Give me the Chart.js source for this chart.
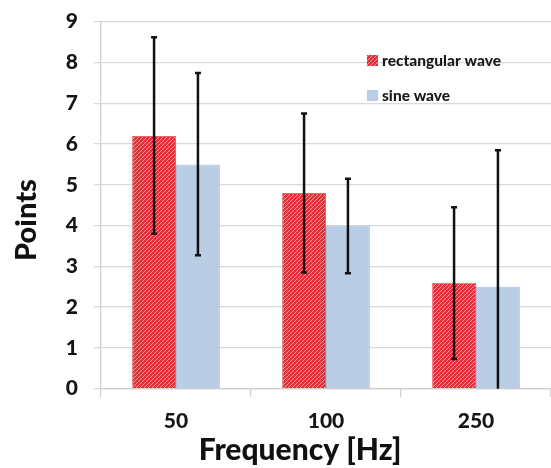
<!DOCTYPE html>
<html>
<head>
<meta charset="utf-8">
<script src="https://cdn.jsdelivr.net/npm/chart.js@4"></script>
<style>
html,body{margin:0;padding:0;background:#fff;}
#wrap{width:551px;height:468px;}
</style>
</head>
<body>
<div id="wrap"><canvas id="myChart"></canvas></div>
<script>
// ---- data ----
let freqLabels = ["50", "100", "250"];
let rectValues = [6.2, 4.8, 2.6];
let sineValues = [5.5, 4.0, 2.5];
let rectLow  = [3.8, 2.85, 0.73];
let rectHigh = [8.62, 6.75, 4.45];
let sineLow  = [3.27, 2.83, 0];
let sineHigh = [7.74, 5.15, 5.85];
let seriesNames = ["rectangular wave", "sine wave"];
let xTitle = "Frequency [Hz]";
let yTitle = "Points";

let FONT = "Lato";
let canvas = document.getElementById("myChart");
let ctx = canvas.getContext("2d");

// red bars with fine white diagonal hatch
function makeHatch(){
  let c = document.createElement("canvas");
  c.width = 4; c.height = 4;
  let g = c.getContext("2d");
  g.fillStyle = "#dc3439";
  g.fillRect(0, 0, 4, 4);
  g.strokeStyle = "rgba(255,215,215,0.7)";
  g.lineWidth = 0.9;
  g.beginPath();
  g.moveTo(0, 4); g.lineTo(4, 0);
  g.moveTo(-1, 1); g.lineTo(1, -1);
  g.moveTo(3, 5); g.lineTo(5, 3);
  g.stroke();
  return ctx.createPattern(c, "repeat");
}
let hatch = makeHatch();

// error bars drawn from the bar elements and y scale
let errorBars = {
  id: "errorBars",
  afterDatasetsDraw(chart){
    let y = chart.scales.y;
    let c = chart.ctx;
    let lows = [rectLow, sineLow];
    let highs = [rectHigh, sineHigh];
    c.save();
    c.strokeStyle = "#111";
    c.lineWidth = 2.5;
    chart.data.datasets.forEach(function(ds, d){
      let meta = chart.getDatasetMeta(d);
      meta.data.forEach(function(bar, i){
        let x = bar.x;
        let yl = y.getPixelForValue(lows[d][i]);
        let yh = y.getPixelForValue(highs[d][i]);
        c.beginPath();
        c.moveTo(x, yl); c.lineTo(x, yh);
        c.moveTo(x - 3, yh); c.lineTo(x + 3, yh);
        if (lows[d][i] > 0){ c.moveTo(x - 3, yl); c.lineTo(x + 3, yl); }
        c.stroke();
      });
    });
    c.restore();
  }
};

// legend inside the plot and axis titles
let extras = {
  id: "extras",
  afterDraw(chart){
    let c = chart.ctx;
    let a = chart.chartArea;
    c.save();
    chart.data.datasets.forEach(function(ds, d){
      let lx = 367, ly = 55 + d * 35;
      c.fillStyle = ds.backgroundColor;
      c.fillRect(lx, ly, 11, 11);
      c.fillStyle = "#1a1a1a";
      c.font = "900 15.5px " + FONT;
      c.textBaseline = "middle";
      c.textAlign = "left";
      c.fillText(ds.label, lx + 15, ly + 6);
    });
    c.fillStyle = "#111";
    c.font = "900 30px " + FONT;
    c.textAlign = "center";
    c.textBaseline = "middle";
    c.fillText(xTitle, a.left + 199, 450);
    c.font = "900 29px " + FONT;
    c.translate(27, 220);
    c.rotate(-Math.PI / 2);
    c.fillText(yTitle, 0, 0);
    c.restore();
  }
};

new Chart(canvas, {
  type: "bar",
  data: {
    labels: freqLabels,
    datasets: [{
      label: seriesNames[0],
      data: rectValues,
      backgroundColor: hatch,
      borderColor: "#e8636a",
      borderWidth: 1
    }, {
      label: seriesNames[1],
      data: sineValues,
      backgroundColor: "#b9cde5",
      borderColor: "#a9c2e2",
      borderWidth: 1
    }]
  },
  options: {
    responsive: true,
    maintainAspectRatio: false,
    animation: false,
    layout: { padding: { top: 21.7, right: 0, left: 0, bottom: 0 } },
    plugins: { legend: { display: false }, tooltip: { enabled: false } },
    datasets: { bar: { categoryPercentage: 0.585, barPercentage: 1 } },
    scales: {
      x: {
        afterFit(s){ s.height = 79.3; s.paddingLeft = 0; s.paddingRight = 0; },
        grid: { drawOnChartArea: false, tickLength: 8, color: "#d0d0d0", lineWidth: 1.3 },
        border: { color: "#d0d0d0", width: 1.3 },
        ticks: { color: "#151515", font: { family: FONT, weight: "900", size: 21 }, padding: 12 }
      },
      y: {
        min: 0, max: 9,
        afterFit(s){ s.width = 101; s.paddingTop = 0; s.paddingBottom = 0; },
        grid: { color: "#d9d9d9", lineWidth: 1.3, tickLength: 7 },
        border: { color: "#d0d0d0", width: 1.3 },
        ticks: { stepSize: 1, color: "#151515", font: { family: FONT, weight: "900", size: 21 }, padding: 16 }
      }
    }
  },
  plugins: [errorBars, extras]
});
</script>
</body>
</html>
